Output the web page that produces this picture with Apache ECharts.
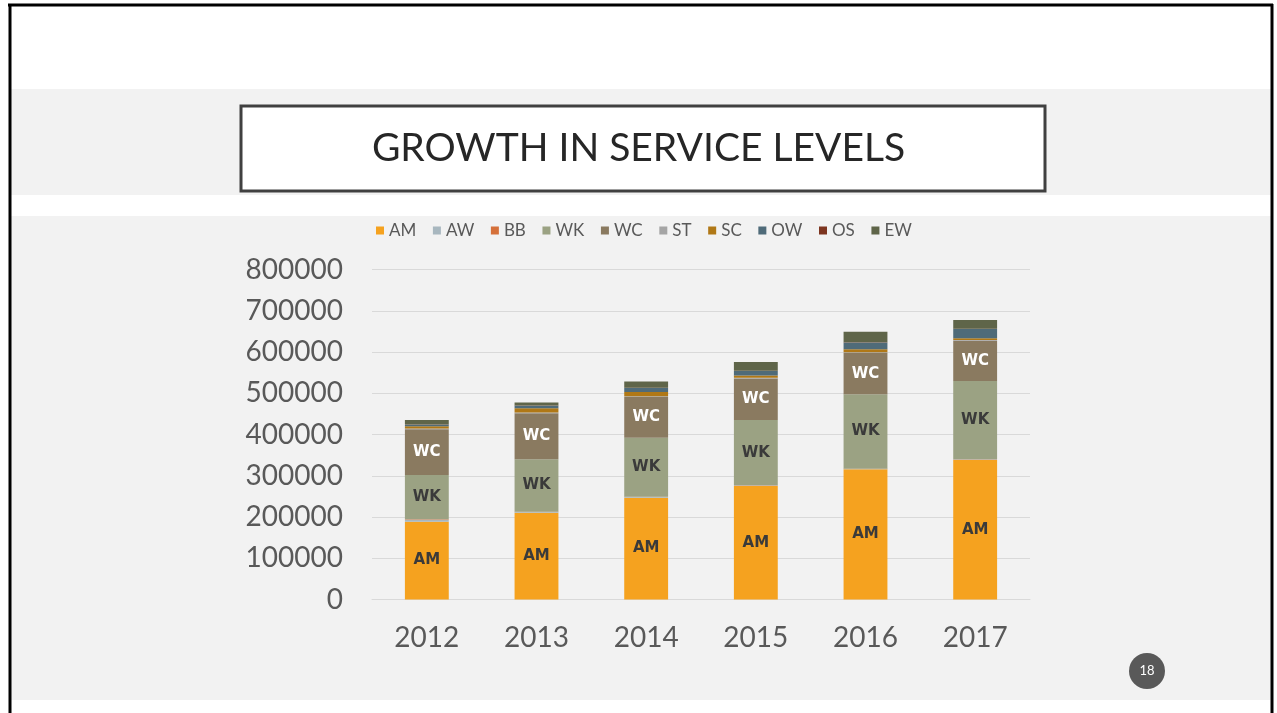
<!DOCTYPE html>
<html>
<head>
<meta charset="utf-8">
<script src="https://cdn.jsdelivr.net/npm/echarts@6/dist/echarts.min.js"></script>
<style>
  html, body { margin: 0; padding: 0; background: #ffffff; }
  #chart { width: 1277px; height: 713px; }
</style>
</head>
<body>
<div id="chart"></div>
<script>
// Service volumes per year, stacked by service type
const years = ['2012', '2013', '2014', '2015', '2016', '2017'];
const AM = [188600, 210400, 246800, 275200, 315600, 338200];
const AW = [5000, 2000, 1500, 1000, 1000, 1000];
const BB = [1000, 500, 500, 500, 500, 500];
const WK = [107400, 127000, 143500, 158500, 180300, 190000];
const WC = [111000, 111500, 98700, 100600, 100200, 97700];
const ST = [1500, 2000, 2000, 1500, 2000, 1500];
const SC = [5300, 10000, 10000, 5800, 7000, 4300];
const OW = [4000, 6500, 9700, 10900, 16500, 22500];
const OS = [500, 500, 500, 500, 500, 500];
const EW = [10800, 7000, 15000, 21300, 25700, 21300];
const yTicks = [0, 100000, 200000, 300000, 400000, 500000, 600000, 700000, 800000];

const seriesDefs = [
  { name: 'AM', data: AM, color: '#f5a21f', label: true, labelColor: '#3a3a3a' },
  { name: 'AW', data: AW, color: '#a8b7bf' },
  { name: 'BB', data: BB, color: '#d5703a' },
  { name: 'WK', data: WK, color: '#9ba283', label: true, labelColor: '#3a3a3a' },
  { name: 'WC', data: WC, color: '#8a7a60', label: true, labelColor: '#ffffff' },
  { name: 'ST', data: ST, color: '#a5a5a5' },
  { name: 'SC', data: SC, color: '#b07816' },
  { name: 'OW', data: OW, color: '#4f6b79' },
  { name: 'OS', data: OS, color: '#7d3520' },
  { name: 'EW', data: EW, color: '#5f6549' }
];

const chart = echarts.init(document.getElementById('chart'), null, { renderer: 'canvas' });

const option = {
  backgroundColor: '#ffffff',
  animation: false,
  graphic: [
    // slide bands
    { type: 'rect', z: -10, shape: { x: 11, y: 89, width: 1260, height: 106 }, style: { fill: '#f2f2f2' } },
    { type: 'rect', z: -10, shape: { x: 11, y: 216, width: 1260, height: 484 }, style: { fill: '#f2f2f2' } },
    // slide frame
    { type: 'line', z: -5, shape: { x1: 8, y1: 5, x2: 1273, y2: 5 }, style: { stroke: '#000', lineWidth: 3 } },
    { type: 'line', z: -5, shape: { x1: 10, y1: 4, x2: 10, y2: 713 }, style: { stroke: '#000', lineWidth: 3 } },
    { type: 'line', z: -5, shape: { x1: 1272, y1: 4, x2: 1272, y2: 713 }, style: { stroke: '#000', lineWidth: 3 } },
    // title box
    { type: 'rect', z: -4, shape: { x: 241, y: 106, width: 804, height: 85 }, style: { fill: '#ffffff', stroke: '#404040', lineWidth: 3 } },
    // page number badge
    { type: 'circle', z: 5, shape: { cx: 1147, cy: 671, r: 18 }, style: { fill: '#595959' } },
    { type: 'text', z: 6, style: { x: 1147, y: 671, text: '18', fill: '#ffffff', font: '13px Lato', align: 'center', verticalAlign: 'middle' } }
  ],
  title: {
    text: 'GROWTH IN SERVICE LEVELS',
    left: 'center',
    top: 124,
    textStyle: { fontFamily: 'Lato', fontSize: 39, fontWeight: 'normal', color: '#262626' }
  },
  legend: {
    top: 217,
    left: 371,
    itemWidth: 8,
    itemHeight: 8,
    itemGap: 16.6,
    icon: 'rect',
    textStyle: { fontFamily: 'Lato', fontSize: 17, color: '#595959' },
    data: seriesDefs.map(s => s.name)
  },
  grid: { left: 372, right: 247, top: 269.5, bottom: 113.5, containLabel: false },
  xAxis: {
    type: 'category',
    data: years,
    axisLine: { show: true, lineStyle: { color: '#d9d9d9' } },
    axisTick: { show: false },
    axisLabel: { fontFamily: 'Lato', fontSize: 28, color: '#595959', margin: 24 }
  },
  yAxis: {
    type: 'value',
    min: yTicks[0],
    max: yTicks[yTicks.length - 1],
    interval: yTicks[1] - yTicks[0],
    axisLine: { show: false },
    axisTick: { show: false },
    splitLine: { lineStyle: { color: '#d9d9d9', width: 1 } },
    axisLabel: {
      fontFamily: 'Lato', fontSize: 28, color: '#595959', margin: 29,
      formatter: v => String(v)
    }
  },
  series: seriesDefs.map(s => ({
    name: s.name,
    type: 'bar',
    stack: 'total',
    barWidth: '40%',
    data: s.data,
    itemStyle: { color: s.color },
    label: s.label ? {
      show: true,
      position: 'inside',
      formatter: '{a}',
      fontFamily: 'DejaVu Sans',
      fontWeight: 'bold',
      fontSize: 15,
      color: s.labelColor
    } : { show: false }
  }))
};

chart.setOption(option);
</script>
</body>
</html>
